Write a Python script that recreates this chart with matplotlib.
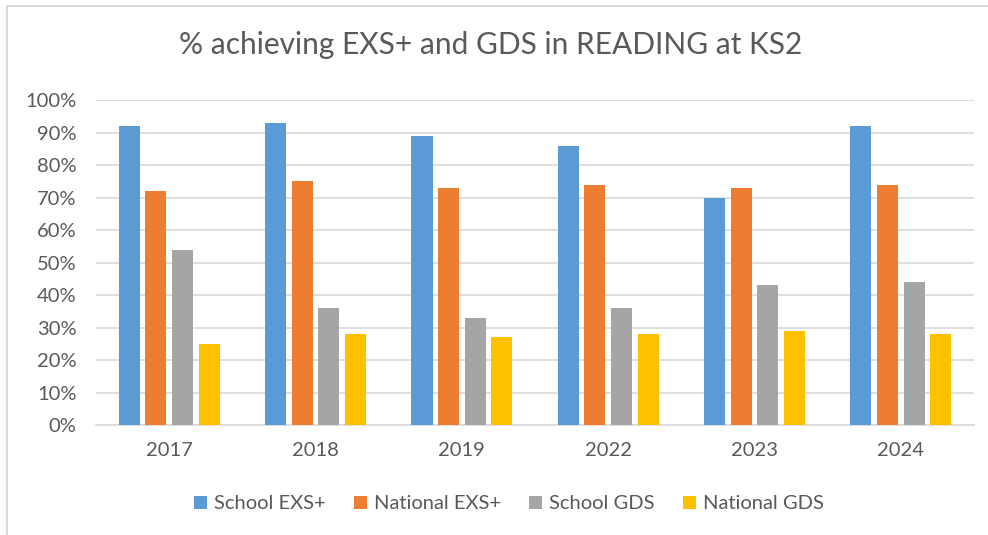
import matplotlib.pyplot as plt
import matplotlib.patches as mpatches
import numpy as np

plt.rcParams['font.family'] = ['Lato', 'DejaVu Sans']

years = ['2017', '2018', '2019', '2022', '2023', '2024']
school_exs = [92, 93, 89, 86, 70, 92]
national_exs = [72, 75, 73, 74, 73, 74]
school_gds = [54, 36, 33, 36, 43, 44]
national_gds = [25, 28, 27, 28, 29, 28]

series = [
    ('School EXS+', school_exs, '#5B9BD5'),
    ('National EXS+', national_exs, '#ED7D31'),
    ('School GDS', school_gds, '#A5A5A5'),
    ('National GDS', national_gds, '#FFC000'),
]

fig = plt.figure(figsize=(9.88, 5.35), dpi=100)
ax = fig.add_axes([0.0972, 0.2056, 0.8886, 0.6074])

# light border around the chart area
fig.patches.append(mpatches.Rectangle((7 / 988, -0.1), 1.2, 1 - 6 / 535 + 0.1,
                                      transform=fig.transFigure, fill=False,
                                      edgecolor='#D9D9D9', linewidth=1.5))

x = np.arange(len(years))
pitch = 0.182
for i, (name, vals, color) in enumerate(series):
    ax.bar(x + (i - 1.5) * pitch, np.array(vals) / 100, width=0.145,
           color=color, label=name, zorder=3)

ax.set_xlim(-0.5, len(years) - 0.5)
ax.set_ylim(0, 1)
ax.set_yticks(np.arange(0, 1.01, 0.1))
ax.set_yticklabels([f'{int(round(v * 100))}%' for v in np.arange(0, 1.01, 0.1)])
ax.set_xticks(x)
ax.set_xticklabels(years)
ax.tick_params(axis='both', length=0, labelsize=14.5, labelcolor='#595959')
ax.tick_params(axis='x', pad=12)
ax.tick_params(axis='y', pad=14)
ax.grid(axis='y', color='#D9D9D9', linewidth=1.2, zorder=0)
for s in ['top', 'right', 'left']:
    ax.spines[s].set_visible(False)
ax.spines['bottom'].set_color('#D9D9D9')
ax.spines['bottom'].set_linewidth(1.2)

fig.text(0.497, 0.915, '% achieving EXS+ and GDS in READING at KS2',
         ha='center', va='center', fontsize=21.5, color='#595959')

fig.legend(loc='center', bbox_to_anchor=(0.515, 0.058), ncol=4, frameon=False,
           fontsize=14.5, labelcolor='#595959', handlelength=0.65, handleheight=0.65,
           handletextpad=0.35, columnspacing=1.4)

fig.savefig('out.png', dpi=100)
